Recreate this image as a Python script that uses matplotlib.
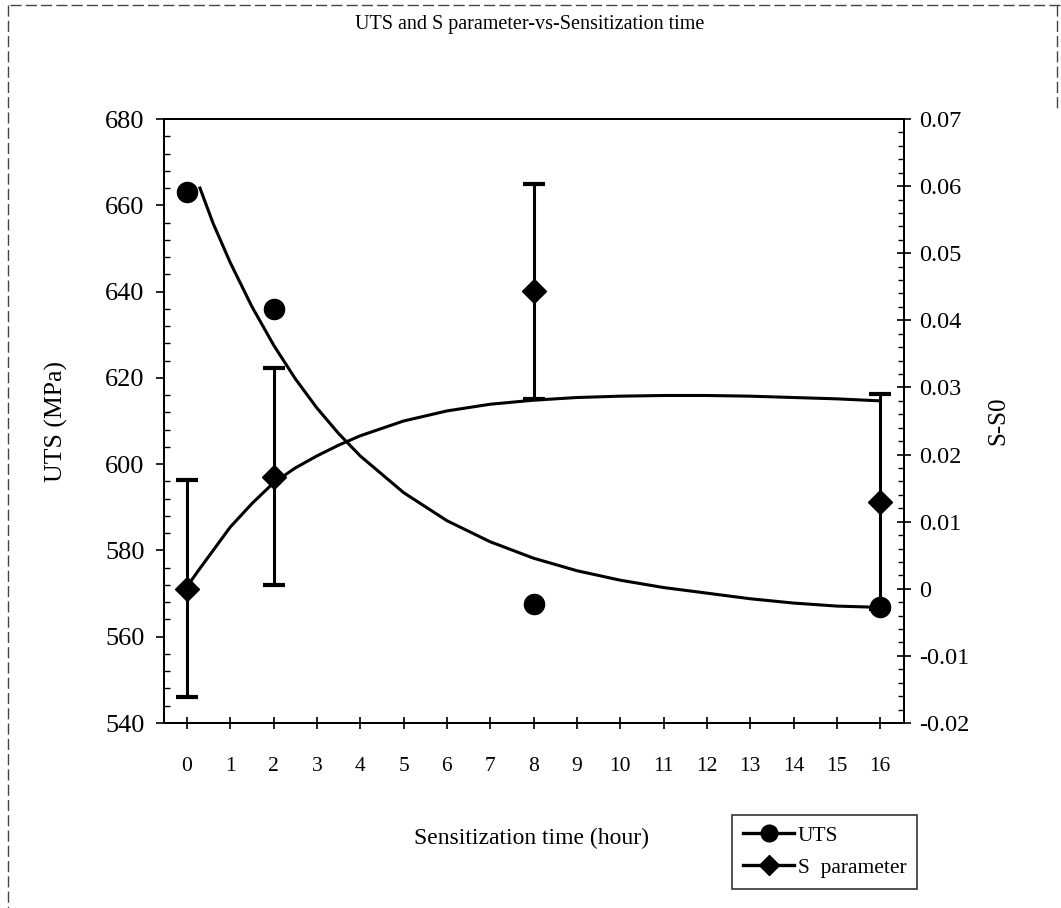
import matplotlib
matplotlib.use("Agg")
import matplotlib.pyplot as plt
from matplotlib.lines import Line2D
from matplotlib.ticker import MultipleLocator, FixedLocator, FixedFormatter

plt.rcParams['font.family'] = ['Liberation Serif', 'DejaVu Serif']

# ---- data ----
time_h = [0, 2, 8, 16]
uts = [663, 636, 567.5, 567]
s_param = [0.0, 0.0167, 0.0443, 0.0130]
s_err = [0.0162, 0.0162, 0.016, 0.016]

# trend curves
uts_curve_x = [0.3, 0.6, 1, 1.5, 2, 2.5, 3, 3.5, 4, 5, 6, 7, 8, 9, 10, 11, 12, 13, 14, 15, 16]
uts_curve_y = [664, 655.9, 646.7, 636.5, 627.6, 619.8, 613.0, 607.1, 601.9, 593.4, 586.9,
               582.0, 578.2, 575.3, 573.1, 571.4, 570.1, 568.8, 567.8, 567.1, 566.8]
s_curve_x = [0, 0.25, 0.5, 0.75, 1, 1.5, 2, 2.5, 3, 3.5, 4, 5, 6, 7, 8, 9, 10, 11, 12,
             13, 14, 15, 16]
s_curve_y = [0.0003, 0.0026, 0.0048, 0.0070, 0.0092, 0.0127, 0.0158, 0.0180, 0.0198,
             0.0214, 0.0228, 0.0250, 0.0265, 0.0275, 0.0281, 0.0285, 0.0287, 0.0288,
             0.0288, 0.0287, 0.0285, 0.0283, 0.0280]

x_ticks = list(range(0, 17))
left_ticks = [540, 560, 580, 600, 620, 640, 660, 680]
right_ticks = [-0.02, -0.01, 0, 0.01, 0.02, 0.03, 0.04, 0.05, 0.06, 0.07]
right_labels = ['-0.02', '-0.01', '0', '0.01', '0.02', '0.03', '0.04', '0.05', '0.06', '0.07']

W, H = 1061, 908
fig = plt.figure(figsize=(W / 100, H / 100), dpi=100)
L, R, T, B = 164, 904, 119, 723
ax = fig.add_axes([L / W, 1 - B / H, (R - L) / W, (B - T) / H])
ax2 = ax.twinx()

# UTS
ax.plot(uts_curve_x, uts_curve_y, color='black', lw=2.2, zorder=3)
ax.plot(time_h, uts, linestyle='none', marker='o', ms=14.5, color='black', zorder=4)
ax.set_xlim(-0.53, 16.55)
ax.set_ylim(540, 680)

# S parameter
ax2.plot(s_curve_x, s_curve_y, color='black', lw=2.2, zorder=3)
ax2.errorbar(time_h, s_param, yerr=s_err, fmt='none', ecolor='black',
             elinewidth=2.2, capsize=8, capthick=3, zorder=3)
ax2.plot(time_h, s_param, linestyle='none', marker='D', ms=12, color='black', zorder=4)
ax2.set_ylim(-0.02, 0.07)

# ticks
ax.xaxis.set_major_locator(FixedLocator(x_ticks))
ax.set_xticklabels([str(v) for v in x_ticks])
ax.tick_params(axis='x', direction='inout', length=9, width=1.2, pad=20, labelsize=15.5)
ax.yaxis.set_major_locator(FixedLocator(left_ticks))
ax.yaxis.set_minor_locator(MultipleLocator(4))
ax.tick_params(axis='y', which='major', direction='out', length=6, width=1.2, pad=8, labelsize=19)
ax.tick_params(axis='y', which='minor', direction='in', length=4, width=1)

ax2.yaxis.set_major_locator(FixedLocator(right_ticks))
ax2.yaxis.set_major_formatter(FixedFormatter(right_labels))
ax2.yaxis.set_minor_locator(MultipleLocator(0.002))
ax2.tick_params(axis='y', which='major', direction='inout', length=10, width=1.2, pad=6, labelsize=17.5)
ax2.tick_params(axis='y', which='minor', direction='in', length=4, width=1)

for a in (ax, ax2):
    for sp in a.spines.values():
        sp.set_linewidth(1.4)
        sp.set_color('black')

# texts
fig.text(530 / W, 1 - 24 / H, 'UTS and S parameter-vs-Sensitization time',
         ha='center', va='center', fontsize=14.5)
fig.text(56 / W, 1 - 421 / H, 'UTS (MPa)', rotation=90, ha='center', va='center', fontsize=18.5)
fig.text(998 / W, 1 - 421 / H, 'S-S0', rotation=90, ha='center', va='center', fontsize=18)
fig.text(531 / W, 1 - 838 / H, 'Sensitization time (hour)', ha='center', va='center', fontsize=17)

# legend
handles = [Line2D([], [], color='black', lw=2.4, marker='o', ms=12),
           Line2D([], [], color='black', lw=2.4, marker='D', ms=10)]
leg = fig.legend(handles, ['UTS', 'S  parameter'], loc='upper left',
                 bbox_to_anchor=(732 / W, 1 - 815 / H), frameon=True, fancybox=False,
                 edgecolor='black', fontsize=15.5, handlelength=2.4, handletextpad=0.15,
                 borderpad=0.5, labelspacing=0.55, borderaxespad=0)
leg.get_frame().set_linewidth(1.2)

# scanned page frame
frame_kw = dict(color='#444444', lw=1.0, linestyle=(0, (8, 3)), transform=fig.transFigure)
fig.add_artist(Line2D([10 / W, 1.0], [1 - 5 / H, 1 - 5 / H], **frame_kw))
fig.add_artist(Line2D([8 / W, 8 / W], [1 - 5 / H, 0.0], **frame_kw))
fig.add_artist(Line2D([1057 / W, 1057 / W], [1 - 5 / H, 1 - 110 / H], **frame_kw))

fig.savefig('out.png', dpi=100)
